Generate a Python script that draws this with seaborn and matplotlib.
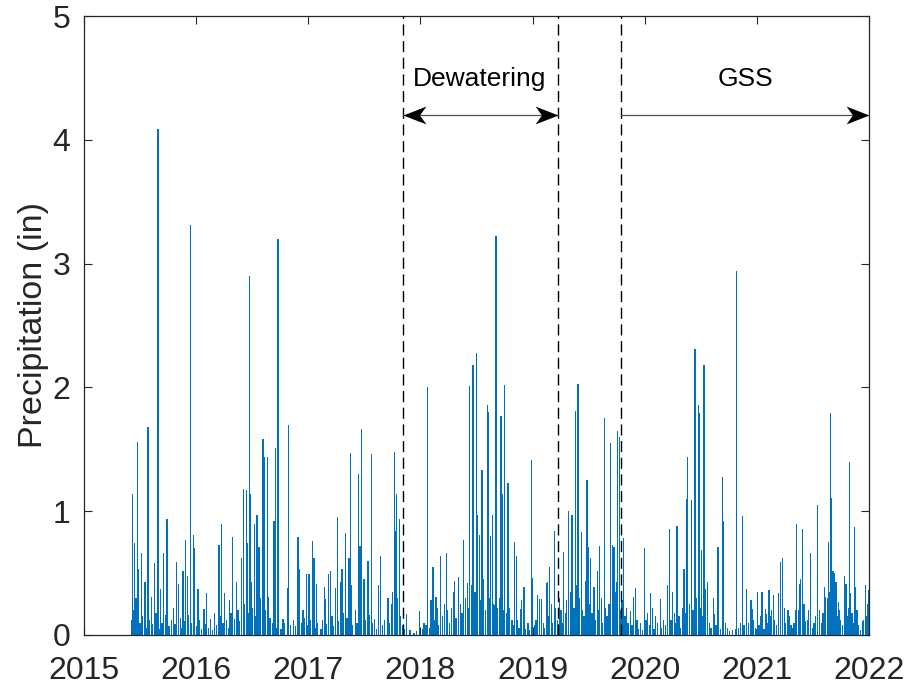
import numpy as np
import pandas as pd
import matplotlib
matplotlib.use("Agg")
import matplotlib.pyplot as plt
from matplotlib.path import Path
from matplotlib.markers import MarkerStyle
import seaborn as sns

# Daily precipitation record (inches), days counted from 1 Jan 2015.
# Storm days
storm_day = [
    157, 162, 172, 177, 186, 197, 207, 218, 228, 239, 248, 258, 269, 300, 307, 321, 330, 335, 345, 356, 359,
    370, 389, 397, 411, 424, 438, 446, 456, 472, 483, 494, 511, 517, 527, 530, 537, 541, 544, 554, 562, 568,
    581, 586, 595, 600, 617, 622, 630, 632, 647, 662, 664, 695, 700,
    712, 722, 731, 742, 747, 756, 782, 785, 794, 801, 817, 823, 834, 839, 850, 861, 866, 870, 893, 897, 903,
    910, 923, 934, 945, 957, 964, 989, 999, 1009, 1013, 1017, 1025, 1048,
    1073, 1092, 1112, 1118, 1129, 1135, 1145, 1149, 1160, 1172, 1178, 1195, 1201, 1205, 1217, 1219, 1235,
    1247, 1255, 1265, 1268, 1277, 1281, 1286, 1295, 1312, 1315, 1323, 1328, 1336, 1340, 1341, 1357, 1362,
    1369, 1379,
    1401, 1406, 1420, 1424, 1431, 1456, 1460, 1476, 1482, 1489, 1504, 1507, 1515, 1530, 1534, 1561, 1577,
    1588, 1599, 1607, 1618, 1633, 1637, 1641, 1648, 1659, 1670, 1678, 1693, 1697, 1714, 1719, 1725, 1732,
    1736, 1742, 1756, 1765, 1778, 1789, 1794,
    1825, 1834, 1844, 1851, 1860, 1875, 1898, 1905, 1916, 1930, 1942, 1953, 1961, 1965, 1976, 1988, 1999,
    2002, 2009, 2018, 2023, 2029, 2048, 2052, 2063, 2079, 2081, 2101, 2120, 2123, 2142,
    2156, 2171, 2175, 2189, 2192, 2207, 2209, 2218, 2222, 2229, 2234, 2244, 2261, 2267, 2274, 2279, 2291,
    2306, 2316, 2320, 2330, 2333, 2339, 2349, 2365, 2370, 2387, 2410, 2414, 2424, 2430, 2431, 2438, 2443,
    2448, 2455, 2468, 2475, 2480, 2491, 2494, 2509, 2511, 2528, 2535, 2543, 2554, 2556,
]
storm_in = [
    1.14, 0.74, 1.56, 0.53, 0.66, 0.43, 1.68, 0.31, 0.58, 4.09, 0.37, 0.66, 0.94, 0.59, 0.41, 0.52, 0.77, 0.48, 3.31, 0.81, 0.70,
    0.37, 0.21, 0.34, 0.13, 0.18, 0.73, 0.90, 0.34, 0.28, 0.79, 0.43, 0.62, 1.18, 1.17, 0.74, 2.90, 1.14, 0.43, 0.90, 0.97, 0.71,
    1.58, 1.44, 1.44, 0.31, 0.92, 1.51, 3.20, 0.29, 0.13, 0.38, 1.70, 0.79, 0.53,
    0.20, 0.49, 0.49, 0.76, 0.62, 0.41, 0.39, 0.29, 0.49, 0.52, 0.38, 0.95, 0.43, 0.53, 0.82, 0.62, 1.47, 0.40, 1.30, 0.72, 1.66,
    0.45, 0.60, 1.46, 0.13, 0.40, 0.64, 0.30, 0.25, 1.48, 0.84, 1.14, 0.94, 0.17,
    0.02, 0.19, 0.08, 2.00, 0.28, 0.55, 0.31, 0.22, 0.64, 0.25, 0.66, 0.22, 0.35, 0.44, 0.47, 0.39, 0.77,
    0.42, 2.01, 2.18, 1.60, 2.28, 0.97, 0.81, 1.33, 1.86, 1.80, 0.80, 0.97, 0.24, 3.22, 2.57, 1.77, 1.14,
    2.02, 1.23,
    0.75, 0.64, 0.21, 0.28, 0.39, 1.41, 0.46, 0.32, 0.29, 0.29, 0.42, 0.43, 0.55, 0.84, 0.22, 0.67, 1.00,
    0.97, 1.81, 2.03, 0.83, 0.44, 1.25, 0.71, 0.62, 0.39, 0.52, 0.72, 1.75, 0.22, 1.55, 0.73, 0.71, 0.43,
    1.65, 1.60, 0.78, 0.22, 0.19, 0.31, 0.38,
    0.70, 0.18, 0.34, 0.22, 0.15, 0.29, 0.40, 0.86, 0.35, 0.88, 0.06, 0.53, 1.10, 1.44, 1.09, 2.31, 1.86,
    1.79, 0.69, 2.18, 0.37, 0.43, 0.30, 0.17, 0.71, 1.28, 0.92, 0.03, 0.05, 2.94, 0.96,
    0.37, 0.28, 0.21, 0.05, 0.35, 0.35, 0.13, 0.21, 0.17, 0.36, 0.15, 0.32, 0.34, 0.59, 0.62, 0.22, 0.20,
    0.06, 0.20, 0.90, 0.41, 0.45, 0.86, 0.11, 0.66, 0.06, 1.05, 0.39, 0.31, 0.75, 1.79, 1.11, 0.52, 0.50,
    0.43, 0.27, 0.08, 0.48, 0.41, 1.40, 0.34, 0.87, 0.39, 0.04, 0.11, 0.40, 0.36, 0.23,
]

# Light-rain days
light_day = [
    155, 160, 165, 168, 181, 190, 201, 211, 222, 233, 243, 252, 263, 275, 283, 290, 295, 312, 317, 325, 339, 349, 364,
    375, 382, 393, 403, 417, 431, 441, 451, 462, 468, 477, 488, 500, 505, 521, 534, 548, 558, 565, 574, 590,
    604, 612, 626, 640, 652, 670, 680, 688,
    708, 716, 727, 736, 752, 760, 770, 776, 789, 806, 812, 828, 844, 855, 874, 882, 888, 915, 928, 939, 950,
    970, 978, 994, 1004, 1020, 1030, 1036, 1043,
    1060, 1082, 1100, 1106, 1124, 1140, 1153, 1166, 1183, 1189, 1210, 1225, 1230, 1240, 1250, 1260, 1272,
    1290, 1300, 1305, 1318, 1332, 1346, 1352, 1366, 1374, 1385, 1392, 1396,
    1411, 1415, 1436, 1444, 1450, 1466, 1471, 1494, 1498, 1511, 1520, 1525, 1540, 1546, 1552, 1556, 1566,
    1570, 1582, 1594, 1603, 1612, 1622, 1627, 1645, 1653, 1663, 1674, 1683, 1688, 1702, 1708, 1729, 1746,
    1751, 1760, 1770, 1783,
    1799, 1805, 1812, 1818, 1829, 1840, 1855, 1866, 1880, 1886, 1892, 1910, 1921, 1926, 1936, 1948, 1957,
    1970, 1982, 1993, 2005, 2013, 2036, 2041, 2057, 2072, 2087, 2094, 2110, 2130, 2136, 2148,
    2163, 2180, 2185, 2197, 2202, 2213, 2225, 2238, 2248, 2254, 2284, 2296, 2301, 2311, 2325, 2343, 2354,
    2359, 2376, 2381, 2393, 2400, 2405, 2419, 2427, 2434, 2441, 2451, 2459, 2463, 2484, 2488, 2500, 2504,
    2516, 2521, 2538, 2547, 2550,
]
light_in = [
    0.12, 0.20, 0.08, 0.30, 0.10, 0.15, 0.06, 0.12, 0.09, 0.18, 0.05, 0.10, 0.16, 0.07, 0.12, 0.22, 0.09, 0.14, 0.06, 0.11, 0.16, 0.10, 0.07,
    0.12, 0.05, 0.09, 0.06, 0.04, 0.08, 0.15, 0.10, 0.12, 0.06, 0.18, 0.13, 0.20, 0.11, 0.25, 0.18, 0.22, 0.15, 0.12, 0.30, 0.20,
    0.14, 0.10, 0.06, 0.05, 0.10, 0.08, 0.12, 0.07,
    0.10, 0.14, 0.08, 0.12, 0.06, 0.10, 0.05, 0.12, 0.09, 0.15, 0.07, 0.11, 0.18, 0.14, 0.08, 0.20, 0.10, 0.12, 0.16, 0.10, 0.05,
    0.08, 0.12, 0.10, 0.35, 0.30, 0.15, 0.08, 0.05,
    0.04, 0.03, 0.05, 0.10, 0.06, 0.12, 0.08, 0.15, 0.20, 0.10, 0.14, 0.25, 0.18, 0.30, 0.22, 0.40, 0.35,
    0.28, 0.45, 0.20, 0.30, 0.25, 0.22, 0.30, 0.20, 0.18, 0.22, 0.12, 0.08,
    0.12, 0.06, 0.05, 0.10, 0.04, 0.08, 0.12, 0.10, 0.06, 0.15, 0.25, 0.10, 0.12, 0.30, 0.20, 0.10, 0.18,
    0.28, 0.35, 0.22, 0.40, 0.30, 0.20, 0.15, 0.25, 0.18, 0.12, 0.20, 0.30, 0.10, 0.15, 0.25, 0.35, 0.20,
    0.28, 0.15, 0.10, 0.08,
    0.12, 0.05, 0.10, 0.04, 0.12, 0.08, 0.05, 0.10, 0.06, 0.12, 0.08, 0.12, 0.18, 0.10, 0.15, 0.22, 0.18,
    0.25, 0.20, 0.30, 0.22, 0.15, 0.10, 0.06, 0.08, 0.05, 0.10, 0.06, 0.04, 0.06, 0.10, 0.08,
    0.10, 0.12, 0.06, 0.08, 0.15, 0.05, 0.10, 0.20, 0.12, 0.08, 0.10, 0.15, 0.08, 0.10, 0.20, 0.25, 0.12,
    0.20, 0.10, 0.15, 0.20, 0.10, 0.18, 0.30, 0.35, 0.40, 0.28, 0.15, 0.20, 0.12, 0.15, 0.22, 0.18, 0.10,
    0.20, 0.08, 0.12, 0.15, 0.25,
]

# Project phases (decimal years) and axis ticks
dewatering_span = (2017.845, 2019.227)
gss_span = (2019.789, 2022.0)
phase_lines = [2017.845, 2019.227, 2019.789]
year_ticks = [2015, 2016, 2017, 2018, 2019, 2020, 2021, 2022]
precip_ticks = [0, 1, 2, 3, 4, 5]

MATLAB_BLUE = "#0072BD"
INK = "#262626"

sns.set_theme(style="ticks")
plt.rcParams["font.family"] = ["Liberation Sans", "DejaVu Sans"]

rain = pd.DataFrame({"day": storm_day + light_day, "inches": storm_in + light_in})
rain["year"] = 2015 + rain["day"] / 365.25

# one bin per calendar day over the record
first_day, last_day = 150, 2556
day_width = 1 / 365.25
bin_range = (2015 + (first_day - 0.5) * day_width, 2015 + (last_day + 0.5) * day_width)

fig = plt.figure(figsize=(9.11, 6.90), dpi=100)
ax = fig.add_axes([84 / 911, 55 / 690, 785 / 911, 619 / 690])

sns.histplot(data=rain, x="year", weights="inches", binwidth=day_width, binrange=bin_range,
             stat="count", element="bars", color=MATLAB_BLUE, alpha=0.25,
             edgecolor=MATLAB_BLUE, linewidth=0.5, antialiased=False, ax=ax)

# phase boundaries
for xv in phase_lines:
    ax.axvline(xv, color="black", lw=1.0, ls=(0, (8, 4)), zorder=3)

# stealth-style arrow heads
head_r = Path([(0, 0), (-1, 0.39), (-0.72, 0), (-1, -0.39), (0, 0)],
              [Path.MOVETO, Path.LINETO, Path.LINETO, Path.LINETO, Path.CLOSEPOLY])
head_l = Path([(0, 0), (1, 0.39), (0.72, 0), (1, -0.39), (0, 0)],
              [Path.MOVETO, Path.LINETO, Path.LINETO, Path.LINETO, Path.CLOSEPOLY])
y_arrow = 4.2
ax.plot(list(dewatering_span), [y_arrow, y_arrow], color="#505050", lw=0.9, zorder=4)
ax.plot([gss_span[0], gss_span[1]], [y_arrow, y_arrow], color="#505050", lw=0.9, zorder=4,
        clip_on=False)
ax.plot([dewatering_span[0]], [y_arrow], marker=MarkerStyle(head_l), ms=33, color="black",
        mew=0, zorder=5)
ax.plot([dewatering_span[1]], [y_arrow], marker=MarkerStyle(head_r), ms=33, color="black",
        mew=0, zorder=5)
ax.plot([gss_span[1]], [y_arrow], marker=MarkerStyle(head_r), ms=33, color="black",
        mew=0, zorder=5, clip_on=False)

ax.text(2018.531, 4.49, "Dewatering", ha="center", va="center", fontsize=19, color="black")
ax.text(2020.894, 4.49, "GSS", ha="center", va="center", fontsize=19, color="black")

ax.set_xlim(2015, 2022)
ax.set_ylim(0, 5)
ax.set_xticks(year_ticks)
ax.set_xticklabels([str(y) for y in year_ticks])
ax.set_yticks(precip_ticks)
ax.set_xlabel("")
ax.set_ylabel("Precipitation (in)", fontsize=24.5, color=INK, labelpad=2)

for side in ["top", "right", "bottom", "left"]:
    ax.spines[side].set_visible(True)
    ax.spines[side].set_color(INK)
    ax.spines[side].set_linewidth(0.9)
ax.tick_params(direction="in", length=5.7, width=0.8, color=INK, labelcolor=INK,
               labelsize=23, top=True, right=True)
ax.tick_params(axis="x", pad=15)
ax.tick_params(axis="y", pad=10)

fig.savefig("out.png", dpi=100)
